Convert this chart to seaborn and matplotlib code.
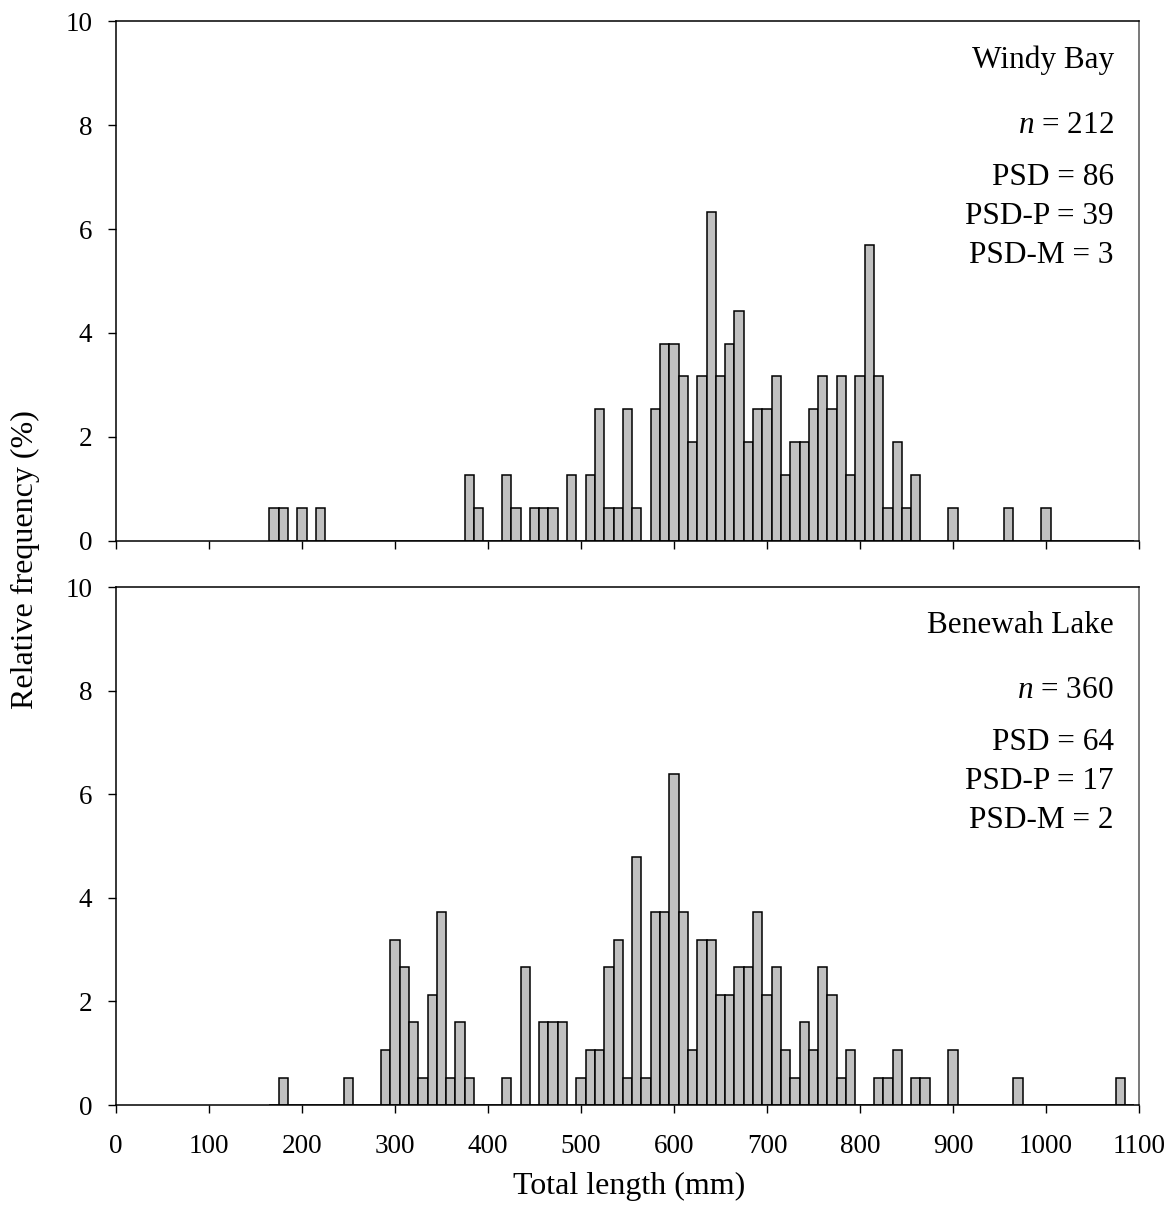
import numpy as np
import pandas as pd
import matplotlib
matplotlib.use("Agg")
import matplotlib.pyplot as plt
import seaborn as sns

# Windy Bay: length-class centres (mm) and fish counts
wb_len = [170, 180, 200, 220, 380, 390, 420, 430, 450, 460, 470, 490, 510, 520, 530,
          540, 550, 560, 580, 590, 600, 610, 620, 630, 640, 650, 660, 670, 680, 690,
          700, 710, 720, 730, 740, 750, 760, 770, 780, 790, 800, 810, 820, 830, 840,
          850, 860, 900, 960, 1000]
wb_cnt = [1, 1, 1, 1, 2, 1, 2, 1, 1, 1, 1, 2, 2, 4, 1,
          1, 4, 1, 4, 6, 6, 5, 3, 5, 10, 5, 6, 7, 3, 4,
          4, 5, 2, 3, 3, 4, 5, 4, 5, 2, 5, 9, 5, 1, 3,
          1, 2, 1, 1, 1]

# Benewah Lake
bl_len = [180, 250, 290, 300, 310, 320, 330, 340, 350, 360, 370, 380, 420, 440, 460,
          470, 480, 500, 510, 520, 530, 540, 550, 560, 570, 580, 590, 600, 610, 620,
          630, 640, 650, 660, 670, 680, 690, 700, 710, 720, 730, 740, 750, 760, 770,
          780, 790, 820, 830, 840, 860, 870, 900, 970, 1080]
bl_cnt = [1, 1, 2, 6, 5, 3, 1, 4, 7, 1, 3, 1, 1, 5, 3,
          3, 3, 1, 2, 2, 5, 6, 1, 9, 1, 7, 7, 12, 7, 2,
          6, 6, 4, 4, 5, 5, 7, 4, 5, 2, 1, 3, 2, 5, 4,
          1, 2, 1, 1, 2, 1, 1, 2, 1, 1]

titles = ["Windy Bay", "Benewah Lake"]
stats_wb = ["212", "PSD = 86", "PSD-P = 39", "PSD-M = 3"]
stats_bl = ["360", "PSD = 64", "PSD-P = 17", "PSD-M = 2"]
x_ticks = list(range(0, 1101, 100))
y_ticks = [0, 2, 4, 6, 8, 10]

sns.set_theme(style="ticks")
plt.rcParams["font.family"] = ["Liberation Serif", "DejaVu Serif"]
plt.rcParams["text.color"] = "black"
plt.rcParams["axes.labelcolor"] = "black"
plt.rcParams["mathtext.fontset"] = "custom"
plt.rcParams["mathtext.it"] = "Liberation Serif:italic"
plt.rcParams["mathtext.rm"] = "Liberation Serif"

fig = plt.figure(figsize=(11.71, 12.22), dpi=100)
ax1 = fig.add_axes([0.0991, 0.5573, 0.8736, 0.4255])
ax2 = fig.add_axes([0.0991, 0.0957, 0.8736, 0.4239])

datasets = [(wb_len, wb_cnt, stats_wb), (bl_len, bl_cnt, stats_bl)]
for ax, (lens, cnts, st), title in zip([ax1, ax2], datasets, titles):
    cnts = np.array(cnts, dtype=float)
    df = pd.DataFrame({"len": lens, "pct": cnts / cnts.sum() * 100})
    sns.histplot(data=df, x="len", weights="pct", binwidth=10, binrange=(165, 1095),
                 ax=ax, color="#C0C0C0", edgecolor="black", linewidth=1.1, alpha=1)
    ax.set_xlim(0, 1100)
    ax.set_ylim(0, 10)
    ax.set_xticks(x_ticks)
    ax.set_yticks(y_ticks)
    ax.set_xlabel("")
    ax.set_ylabel("")
    for s in ax.spines.values():
        s.set_visible(True)
        s.set_linewidth(1.1)
        s.set_color("black")
    ax.spines["right"].set_color("#555555")
    ax.tick_params(axis="both", direction="out", length=6, width=1.0,
                   labelsize=19.5, colors="black")
    ax.tick_params(axis="x", pad=15)
    ax.tick_params(axis="y", pad=11)
    ax.tick_params(top=False, right=False)
    kw = dict(ha="right", va="center", fontsize=22.5, color="black")
    ax.text(1073, 9.25, title, **kw)
    ax.text(1073, 8.0, r"$\mathit{n}$ = " + st[0], **kw)
    ax.text(1073, 7.0, st[1], **kw)
    ax.text(1073, 6.25, st[2], **kw)
    ax.text(1073, 5.5, st[3], **kw)

ax1.tick_params(labelbottom=False)
ax2.set_xticklabels([str(v) for v in x_ticks])

fig.text(0.537, 0.029, "Total length (mm)", ha="center", va="center", fontsize=23)
fig.text(0.022, 0.542, "Relative frequency (%)", ha="center", va="center",
         rotation=90, fontsize=23)

fig.savefig("out.png", dpi=100, facecolor="white")
